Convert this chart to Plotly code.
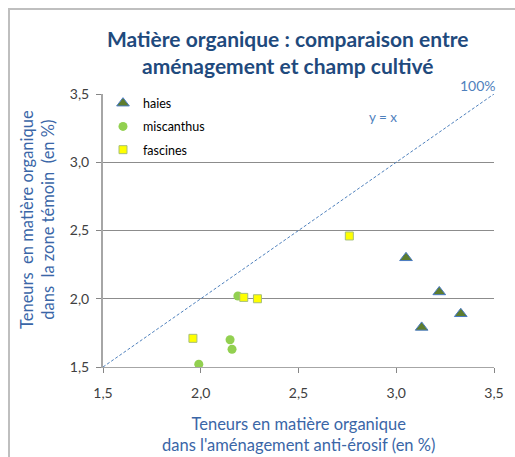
import plotly.graph_objects as go

# Data
haies_x = [3.05, 3.22, 3.13, 3.33]
haies_y = [2.30, 2.05, 1.79, 1.89]
misc_x = [2.19, 2.15, 2.16, 1.99]
misc_y = [2.02, 1.70, 1.63, 1.52]
fasc_x = [2.22, 2.29, 1.96, 2.76]
fasc_y = [2.01, 2.00, 1.71, 2.46]
ref_x = [1.5, 3.5]
ref_y = [1.5, 3.5]
tick_vals = [1.5, 2.0, 2.5, 3.0, 3.5]

FONT = "Lato"
fig = go.Figure()

fig.add_trace(go.Scatter(x=ref_x, y=ref_y, mode="lines", showlegend=False,
                         line=dict(color="#4F81BD", width=1, dash="3px,2px"), hoverinfo="skip"))
fig.add_trace(go.Scatter(x=haies_x, y=haies_y, mode="markers", name="haies", legendgroup="a",
                         marker=dict(symbol="triangle-up", size=11, color="#5E7D2E",
                                     line=dict(color="#4A7BC4", width=1))))
fig.add_trace(go.Scatter(x=misc_x, y=misc_y, mode="markers", name="miscanthus", legendgroup="b",
                         marker=dict(symbol="circle", size=9, color="#92D050",
                                     line=dict(color="#92D050", width=0))))
fig.add_trace(go.Scatter(x=fasc_x, y=fasc_y, mode="markers", name="fascines", legendgroup="c",
                         marker=dict(symbol="square", size=8, color="#FFFF00",
                                     line=dict(color="#A6BF7A", width=1))))

axis_common = dict(range=[1.5, 3.5], tickvals=tick_vals, tickformat=".1f",
                   ticks="outside", ticklen=5, tickcolor="#868686",
                   tickfont=dict(family=FONT, size=14, color="#404040"),
                   showline=True, linecolor="#A6A6A6", zeroline=False)

fig.update_xaxes(**axis_common, showgrid=False, linewidth=1, ticklabelstandoff=8)
fig.update_yaxes(**axis_common, showgrid=True, gridcolor="#8C8C8C", gridwidth=1, linewidth=2,
                 ticklabelstandoff=4)

title_color = "#1F4A7D"
axis_title_color = "#3A66A7"

fig.update_layout(
    width=515, height=457,
    margin=dict(l=103, r=21, t=94, b=90),
    paper_bgcolor="white", plot_bgcolor="white",
    separators=", ",
    showlegend=True,
    legend=dict(x=0.0, y=1.02, xanchor="left", yanchor="top",
                font=dict(family=FONT, size=12.5, color="#000000"),
                bgcolor="rgba(0,0,0,0)", traceorder="grouped", tracegroupgap=4,
                itemwidth=30),
    annotations=[
        dict(text="<b>Matière organique : comparaison entre<br>aménagement et champ cultivé</b>",
             xref="paper", yref="paper", x=(288 - 103) / 391, y=(367 - 52) / 273,
             xanchor="center", yanchor="middle", showarrow=False,
             font=dict(family=FONT, size=21, color=title_color)),
        dict(text="Teneurs  en matière organique<br>dans  la zone témoin  (en %)",
             xref="paper", yref="paper", x=(37 - 103) / 391, y=(367 - 220) / 273,
             xanchor="center", yanchor="middle", textangle=-90, showarrow=False,
             font=dict(family=FONT, size=16.5, color=axis_title_color)),
        dict(text="Teneurs en matière organique<br>dans l'aménagement anti-érosif (en %)",
             xref="paper", yref="paper", x=(298 - 103) / 391, y=(367 - 434) / 273,
             xanchor="center", yanchor="middle", showarrow=False,
             font=dict(family=FONT, size=16.5, color=axis_title_color)),
        dict(text="y = x", x=2.93, y=3.33, xref="x", yref="y", showarrow=False,
             font=dict(family=FONT, size=13.5, color="#4F81BD")),
        dict(text="100%", x=3.5, y=3.5, xref="x", yref="y", showarrow=False,
             xanchor="right", yanchor="bottom", xshift=4, yshift=-2,
             font=dict(family=FONT, size=14, color="#4F81BD")),
    ],
    shapes=[
        dict(type="rect", xref="paper", yref="paper",
             x0=(9 - 103) / 391, x1=(520 - 103) / 391,
             y0=(367 - 462) / 273, y1=(367 - 9) / 273,
             line=dict(color="#BFBFBF", width=2), fillcolor="rgba(0,0,0,0)", layer="below"),
    ],
)

fig.write_html("out.html", config={"displayModeBar": False},
               post_script="document.body.style.margin='0';")
